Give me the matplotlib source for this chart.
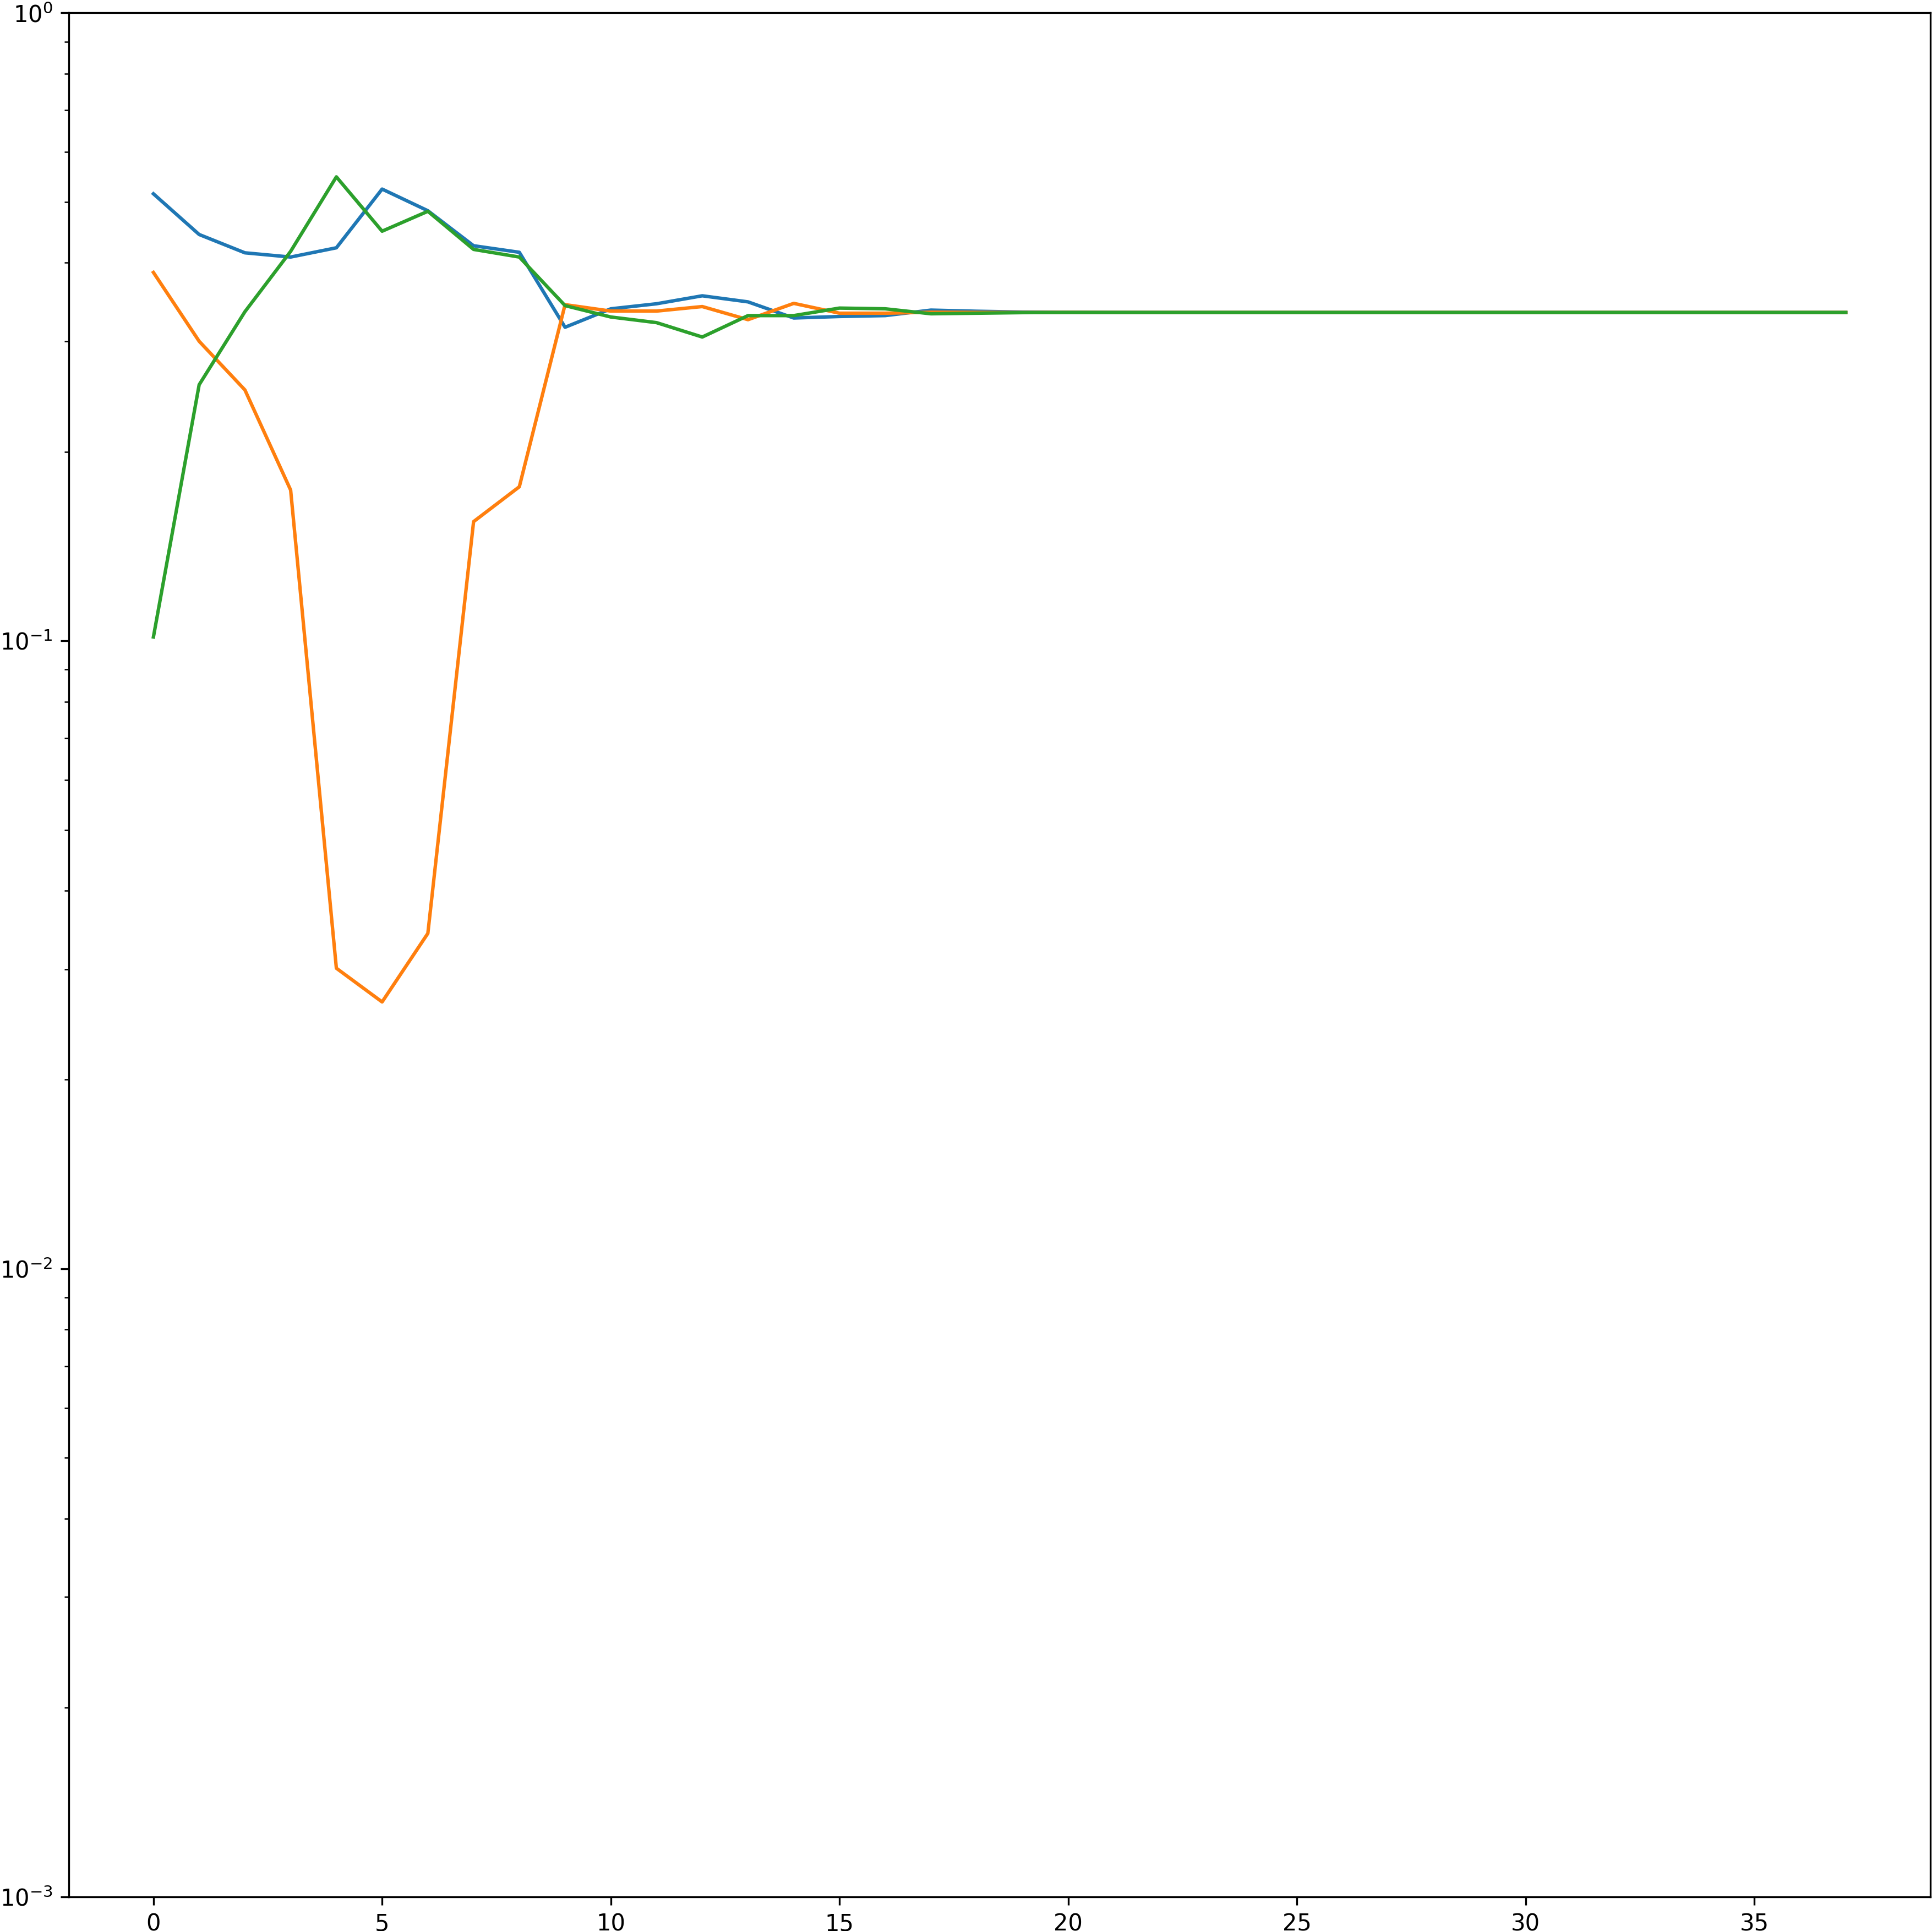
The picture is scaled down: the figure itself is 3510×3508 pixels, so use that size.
import matplotlib
matplotlib.use("Agg")
import matplotlib.pyplot as plt

x = list(range(38))

blue = [0.515, 0.4436, 0.4148, 0.4084, 0.4225, 0.524, 0.484, 0.4257, 0.4156, 0.3157,
        0.3378, 0.3441, 0.3543, 0.3465, 0.3266, 0.3284, 0.3295, 0.3362, 0.3348, 0.3338,
        0.3336, 0.3334, 0.3333, 0.3333, 0.3333, 0.3333, 0.3333, 0.3333, 0.3333, 0.3333,
        0.3333, 0.3333, 0.3333, 0.3333, 0.3333, 0.3333, 0.3333, 0.3333]

orange = [0.386, 0.2999, 0.2509, 0.1738, 0.0301, 0.0266, 0.0342, 0.1548, 0.1759, 0.343,
          0.335, 0.335, 0.3406, 0.3246, 0.3446, 0.3324, 0.3324, 0.3336, 0.3334, 0.3333,
          0.3334, 0.3333, 0.3333, 0.3333, 0.3333, 0.3333, 0.3333, 0.3333, 0.3333, 0.3333,
          0.3333, 0.3333, 0.3333, 0.3333, 0.3333, 0.3333, 0.3333, 0.3333]

green = [0.1014, 0.2557, 0.3342, 0.417, 0.548, 0.449, 0.483, 0.420, 0.4084, 0.3418,
         0.3278, 0.3211, 0.3046, 0.3295, 0.3295, 0.3387, 0.3378, 0.3317, 0.3324, 0.3331,
         0.3333, 0.3333, 0.3333, 0.3333, 0.3333, 0.3333, 0.3333, 0.3333, 0.3333, 0.3333,
         0.3333, 0.3333, 0.3333, 0.3333, 0.3333, 0.3333, 0.3333, 0.3333]

fig = plt.figure(figsize=(3510 / 300, 3508 / 300), dpi=300)
ax = fig.add_axes([125 / 3510, (3508 - 3445.7) / 3508,
                   (3507 - 125) / 3510, (3445.7 - 23.3) / 3508])

ax.plot(x, blue, color="#1f77b4")
ax.plot(x, orange, color="#ff7f0e")
ax.plot(x, green, color="#2ca02c")

ax.set_yscale("log")
ax.set_ylim(1e-3, 1)
ax.set_xticks([0, 5, 10, 15, 20, 25, 30, 35])

fig.savefig("out.png", dpi=300)
